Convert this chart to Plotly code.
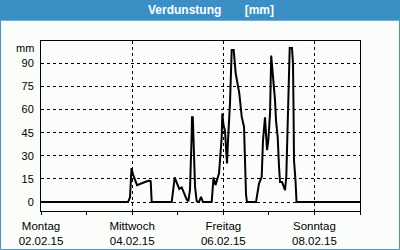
import plotly.graph_objects as go

times = [
    "2015-02-02 00:00", "2015-02-03 21:49", "2015-02-03 22:52", "2015-02-03 23:40",
    "2015-02-04 00:27", "2015-02-04 02:34", "2015-02-04 05:43", "2015-02-04 08:53",
    "2015-02-04 09:46", "2015-02-04 10:18", "2015-02-04 20:50", "2015-02-04 22:25",
    "2015-02-04 23:22", "2015-02-05 00:50", "2015-02-05 02:06", "2015-02-05 03:19",
    "2015-02-05 04:44", "2015-02-05 05:35", "2015-02-05 06:28", "2015-02-05 07:16",
    "2015-02-05 07:32", "2015-02-05 07:57", "2015-02-05 08:19", "2015-02-05 09:07",
    "2015-02-05 10:00", "2015-02-05 11:13", "2015-02-05 12:16", "2015-02-05 13:19",
    "2015-02-05 17:54", "2015-02-05 18:19", "2015-02-05 18:51", "2015-02-05 19:54",
    "2015-02-05 20:41", "2015-02-05 21:45", "2015-02-05 23:10", "2015-02-05 23:29",
    "2015-02-06 00:07", "2015-02-06 00:55", "2015-02-06 01:42", "2015-02-06 01:58",
    "2015-02-06 02:29", "2015-02-06 03:32", "2015-02-06 04:26", "2015-02-06 05:29",
    "2015-02-06 06:32", "2015-02-06 07:36", "2015-02-06 08:26", "2015-02-06 09:42",
    "2015-02-06 10:55", "2015-02-06 11:58", "2015-02-06 12:29", "2015-02-06 17:14",
    "2015-02-06 18:49", "2015-02-06 20:14", "2015-02-06 20:55", "2015-02-06 21:58",
    "2015-02-06 22:30", "2015-02-06 23:02", "2015-02-06 23:43", "2015-02-07 00:37",
    "2015-02-07 01:14", "2015-02-07 01:56", "2015-02-07 02:21", "2015-02-07 03:15",
    "2015-02-07 03:46", "2015-02-07 04:40", "2015-02-07 05:21", "2015-02-07 05:53",
    "2015-02-07 06:56", "2015-02-07 07:37", "2015-02-07 08:31", "2015-02-07 09:11",
    "2015-02-07 09:43", "2015-02-07 10:28", "2015-02-07 10:59", "2015-02-07 12:11",
    "2015-02-07 12:43", "2015-02-07 12:59", "2015-02-07 13:15", "2015-02-07 14:02",
    "2015-02-07 14:34", "2015-02-09 00:00",
]
verdunstung_mm = [
    0, 0, 3, 22,
    18, 11, 12.5, 14,
    13.5, 0, 0, 16,
    13, 8.5, 9.5, 5.5,
    1.7, 0.5, 8, 40,
    55, 55, 35, 10,
    0.5, 0, 3.4, 0,
    0, 8, 16, 11,
    14, 18.6, 42, 57.5,
    50, 46, 30, 25,
    40, 64, 98.6, 98.6,
    83.5, 77, 70.5, 55.4,
    48.9, 5, 0, 0,
    12, 16.4, 40, 55,
    46.7, 33.7, 40, 57.5,
    95, 86, 77, 66,
    53, 42, 23, 13,
    13, 11, 7.8, 16.4,
    40, 79, 100, 100,
    90, 62, 27, 14,
    0, 0,
]

major_ticks = ["2015-02-02", "2015-02-04", "2015-02-06", "2015-02-08"]
major_labels = ["Montag<br>02.02.15", "Mittwoch<br>04.02.15",
                "Freitag<br>06.02.15", "Sonntag<br>08.02.15"]
minor_ticks = ["2015-02-0%d" % d for d in range(2, 10)]
y_ticks = [0, 15, 30, 45, 60, 75, 90]

FONT = "Liberation Sans"
BG = "#fbfdfb"
BLUE = "#3b8fc4"

fig = go.Figure()
fig.add_trace(go.Scatter(x=times, y=verdunstung_mm, mode="lines",
                         line=dict(color="black", width=2), showlegend=False,
                         hoverinfo="skip"))

W, H = 400, 250
ml, mr, mt, mb = 41, 40, 41, 39
pw, ph = W - ml - mr, H - mt - mb

def px_x(p):
    return (p - ml) / pw

def px_y(p):
    return (H - mb - p) / ph

fig.update_layout(
    width=W, height=H, autosize=False,
    margin=dict(l=ml, r=mr, t=mt, b=mb, pad=0),
    paper_bgcolor=BG, plot_bgcolor=BG,
    font=dict(family=FONT, size=11, color="black"),
    xaxis=dict(
        type="date", range=["2015-02-02 00:00", "2015-02-09 00:00"],
        tickmode="array", tickvals=major_ticks, ticktext=major_labels,
        showgrid=True, gridcolor="black", griddash="3px,3px", gridwidth=1,
        showline=True, linecolor="black", linewidth=1, mirror=True,
        ticks="outside", ticklen=3, tickcolor="black", tickwidth=1,
        ticklabelstandoff=1, automargin=False,
        tickfont=dict(family=FONT, size=11.5, color="black"),
        minor=dict(tickmode="array", tickvals=minor_ticks, ticks="outside",
                   ticklen=3, tickcolor="black", showgrid=False),
        zeroline=False, fixedrange=True,
    ),
    yaxis=dict(
        range=[-5.8, 104.5], tickmode="array", tickvals=y_ticks,
        showgrid=True, gridcolor="black", griddash="3px,3px", gridwidth=1,
        showline=True, linecolor="black", linewidth=1, mirror=True,
        ticks="", zeroline=False, ticklabelstandoff=4, fixedrange=True,
        automargin=False,
    ),
    shapes=[
        dict(type="rect", xref="paper", yref="paper",
             x0=px_x(0), x1=px_x(400), y0=px_y(20.5), y1=px_y(0),
             fillcolor=BLUE, line=dict(width=0), layer="above"),
        dict(type="rect", xref="paper", yref="paper",
             x0=px_x(0.5), x1=px_x(399.5), y0=px_y(249.5), y1=px_y(20),
             fillcolor="rgba(0,0,0,0)", line=dict(color="#4a93c0", width=1),
             layer="above"),
    ],
    annotations=[
        dict(text="<b>Verdunstung\u00a0\u00a0\u00a0\u00a0\u00a0\u00a0\u00a0[mm]</b>",
             xref="paper", yref="paper", x=px_x(211), y=px_y(10.5),
             xanchor="center", yanchor="middle", showarrow=False,
             font=dict(family=FONT, size=12, color="white")),
        dict(text="mm", xref="paper", yref="y", x=0, y=100,
             xanchor="right", yanchor="middle", xshift=-5, showarrow=False,
             font=dict(family=FONT, size=11, color="black")),
    ],
)

fig.write_html("out.html", include_plotlyjs=True, config={"displayModeBar": False})
